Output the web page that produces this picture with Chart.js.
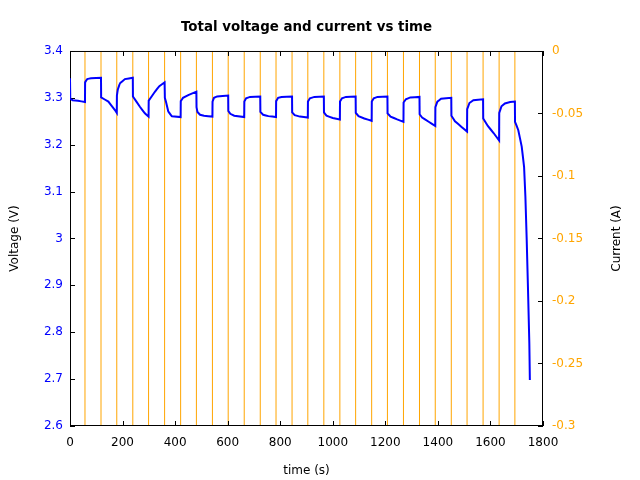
<!DOCTYPE html>
<html>
<head>
<meta charset="utf-8">
<script src="https://cdn.jsdelivr.net/npm/chart.js@4"></script>
<style>
  html, body { margin: 0; padding: 0; background: #fff; }
  #wrap { width: 640px; height: 480px; }
</style>
</head>
<body>
<div id="wrap"><canvas id="chart"></canvas></div>
<script>
// voltage readings (s, V)
const timeS = [
  0, 1, 10, 30, 57,
  57.5, 65, 80, 118,
  118.5, 146, 171, 178,
  178.5, 182, 190, 209, 239,
  239.5, 266, 285, 299,
  299.5, 323, 340, 360,
  361, 365, 374, 387, 421,
  421.5, 430, 450, 481,
  481.5, 485, 495, 510, 542,
  542.5, 548, 560, 602,
  602.5, 610, 625, 663,
  663.5, 670, 685, 724,
  724.5, 735, 755, 784,
  784.5, 792, 805, 845,
  845.5, 855, 875, 905,
  905.5, 913, 930, 966,
  966.5, 976, 1000, 1027,
  1027.5, 1035, 1050, 1087,
  1087.5, 1098, 1120, 1148,
  1148.5, 1156, 1170, 1208,
  1208.5, 1220, 1245, 1269,
  1269.5, 1278, 1295, 1330,
  1330.5, 1340, 1365, 1390,
  1390.5, 1398, 1412, 1451,
  1451.5, 1465, 1490, 1511,
  1511.5, 1520, 1535, 1572,
  1572.5, 1590, 1612, 1633,
  1633.5, 1642, 1655, 1675, 1693,
  1693.5, 1706, 1719, 1728, 1733, 1738, 1743, 1748, 1750
];
const voltageV = [
  3.342, 3.298, 3.295, 3.294, 3.291,
  3.333, 3.340, 3.342, 3.343,
  3.301, 3.292, 3.274, 3.268,
  3.305, 3.318, 3.331, 3.340, 3.343,
  3.303, 3.281, 3.267, 3.260,
  3.294, 3.313, 3.325, 3.333,
  3.300, 3.292, 3.271, 3.261, 3.259,
  3.293, 3.300, 3.306, 3.313,
  3.280, 3.270, 3.264, 3.262, 3.260,
  3.292, 3.300, 3.303, 3.305,
  3.272, 3.266, 3.262, 3.259,
  3.292, 3.299, 3.302, 3.303,
  3.270, 3.264, 3.261, 3.259,
  3.293, 3.300, 3.302, 3.303,
  3.269, 3.263, 3.260, 3.258,
  3.292, 3.299, 3.302, 3.303,
  3.269, 3.262, 3.257, 3.254,
  3.292, 3.299, 3.302, 3.303,
  3.268, 3.261, 3.256, 3.251,
  3.292, 3.299, 3.302, 3.303,
  3.267, 3.260, 3.254, 3.249,
  3.290, 3.297, 3.301, 3.302,
  3.265, 3.258, 3.249, 3.240,
  3.280, 3.292, 3.298, 3.300,
  3.262, 3.250, 3.238, 3.228,
  3.276, 3.289, 3.295, 3.297,
  3.256, 3.240, 3.225, 3.209,
  3.268, 3.282, 3.288, 3.291, 3.292,
  3.249, 3.231, 3.196, 3.153, 3.089, 2.997, 2.890, 2.776, 2.698
];

// current steps: level starting at each time (discharge level is below the axis range)
const currentTimeS = [
  0, 57, 118, 178, 239, 299, 360, 421, 481, 542, 602, 663, 724, 784, 845,
  905, 966, 1027, 1087, 1148, 1208, 1269, 1330, 1390, 1451, 1511, 1572, 1633, 1693, 1750
];
const currentA = [
  -0.5, 0, -0.5, 0, -0.5, 0, -0.5, 0, -0.5, 0, -0.5, 0, -0.5, 0, -0.5,
  0, -0.5, 0, -0.5, 0, -0.5, 0, -0.5, 0, -0.5, 0, -0.5, 0, -0.5, -0.5
];

const blue = '#0000ff';
const orange = '#ffa500';

const fmt = v => String(Number(Number(v).toFixed(3)));

// box round the plot, gnuplot-like inward ticks and the right axis title
const frame = {
  id: 'frame',
  afterDatasetDraw(chart, args) {
    if (args.index !== 1) return;
    const { ctx, chartArea: a, scales } = chart;
    const len = 5;
    ctx.save();
    ctx.strokeStyle = '#000';
    ctx.lineWidth = 1;
    ctx.strokeRect(a.left + 0.5, a.top + 0.5, a.right - a.left - 1, a.bottom - a.top - 1);
    ctx.beginPath();
    scales.x.ticks.forEach(t => {
      const px = Math.round(scales.x.getPixelForValue(t.value)) + 0.5;
      ctx.moveTo(px, a.bottom); ctx.lineTo(px, a.bottom - len);
      ctx.moveTo(px, a.top); ctx.lineTo(px, a.top + len);
    });
    scales.y.ticks.forEach(t => {
      const py = Math.round(scales.y.getPixelForValue(t.value)) + 0.5;
      ctx.moveTo(a.left, py); ctx.lineTo(a.left + len, py);
    });
    scales.y2.ticks.forEach(t => {
      const py = Math.round(scales.y2.getPixelForValue(t.value)) + 0.5;
      ctx.moveTo(a.right, py); ctx.lineTo(a.right - len, py);
    });
    ctx.stroke();
    ctx.restore();
  },
  afterDraw(chart) {
    const { ctx, chartArea: a } = chart;
    ctx.save();
    ctx.translate(617, (a.top + a.bottom) / 2);
    ctx.rotate(-Math.PI / 2);
    ctx.font = "12px 'DejaVu Sans', sans-serif";
    ctx.fillStyle = '#000';
    ctx.textAlign = 'center';
    ctx.textBaseline = 'middle';
    ctx.fillText('Current (A)', 0, 0);
    ctx.restore();
  }
};

Chart.defaults.font.family = "'DejaVu Sans', sans-serif";
Chart.defaults.font.size = 12;
Chart.defaults.color = '#000';

new Chart(document.getElementById('chart'), {
  type: 'line',
  data: {
    datasets: [
      {
        label: 'Voltage',
        data: timeS.map((t, i) => ({ x: t, y: voltageV[i] })),
        yAxisID: 'y',
        borderColor: blue,
        borderWidth: 2,
        pointRadius: 0,
        // tiny tension keeps Chart.js off its pixel-merging fast path
        tension: 0.000001
      },
      {
        label: 'Current',
        data: currentTimeS.map((t, i) => ({ x: t, y: currentA[i] })),
        yAxisID: 'y2',
        borderColor: orange,
        borderWidth: 1,
        pointRadius: 0,
        stepped: 'before'
      }
    ]
  },
  options: {
    responsive: true,
    maintainAspectRatio: false,
    animation: false,
    layout: { padding: 0 },
    plugins: {
      legend: { display: false },
      tooltip: { enabled: false },
      title: {
        display: true,
        text: 'Total voltage and current vs time',
        fullSize: false,
        font: { size: 13.4, weight: 'bold' },
        padding: { top: 19, bottom: 15.9 }
      }
    },
    scales: {
      x: {
        type: 'linear',
        min: 0,
        max: 1800,
        grid: { display: false, drawTicks: false },
        border: { display: false },
        ticks: { stepSize: 200, padding: 10, maxRotation: 0, callback: v => fmt(v) },
        title: { display: true, text: 'time (s)', padding: { top: 0, bottom: 2 } },
        afterFit: s => { s.height = 54; }
      },
      y: {
        position: 'left',
        min: 2.6,
        max: 3.4,
        grid: { display: false, drawTicks: false },
        border: { display: false },
        ticks: { stepSize: 0.1, padding: 7, color: blue, callback: v => fmt(v) },
        title: { display: true, text: 'Voltage (V)', padding: { top: 8, bottom: 0 } },
        afterFit: s => { s.width = 70; }
      },
      y2: {
        position: 'right',
        min: -0.3,
        max: 0,
        grid: { display: false, drawTicks: false },
        border: { display: false },
        ticks: { stepSize: 0.05, padding: 9, color: orange, callback: v => fmt(v) },
        title: { display: false },
        afterFit: s => { s.width = 97; }
      }
    }
  },
  plugins: [frame]
});
</script>
</body>
</html>
